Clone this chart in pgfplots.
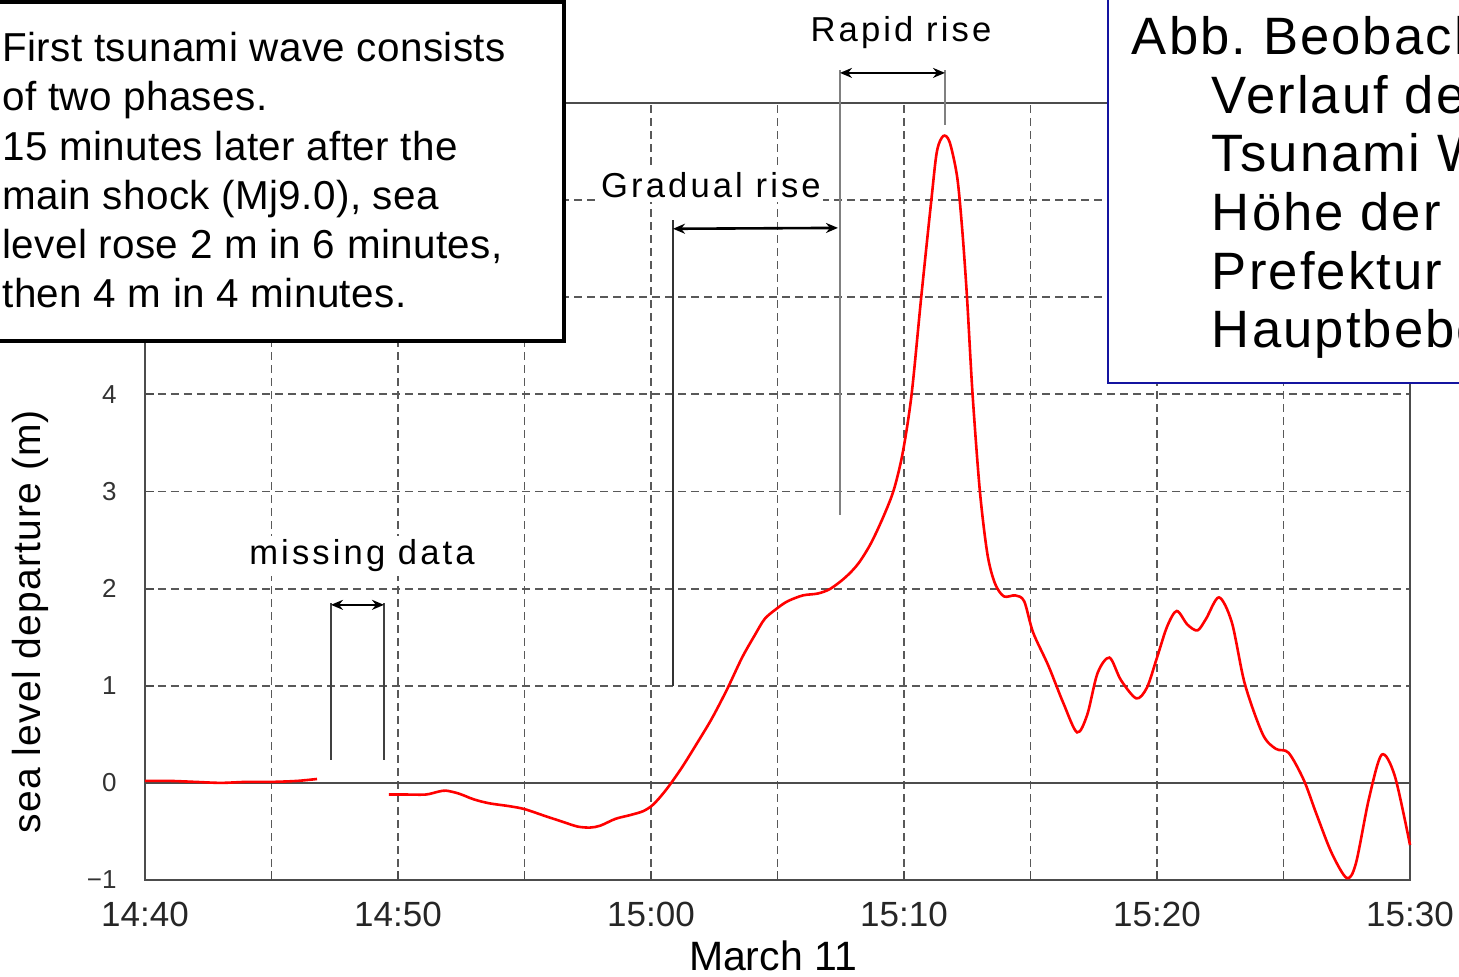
\documentclass[border=0pt]{standalone}
\usepackage{pgfplots}
\pgfplotsset{compat=1.18}
\usepackage{fontspec}
\setmainfont{Liberation Sans}
\newfontfamily\annfont[LetterSpace=9]{Liberation Sans}
\newfontfamily\boxfont[LetterSpace=1]{Liberation Sans}
\newfontfamily\capfont[LetterSpace=4]{Liberation Sans}
\newfontfamily\ylabfont[LetterSpace=3]{Liberation Sans}
\usetikzlibrary{arrows.meta}
\definecolor{boxblue}{RGB}{20,20,160}

\begin{document}
\begin{tikzpicture}
\begin{axis}[
    at={(0,0)}, anchor=south west,
    scale only axis,
    width=632.5pt, height=388.5pt,
    xmin=0, xmax=50, ymin=-1, ymax=7,
    xtick={0,5,...,50},
    xticklabels={14:40,,14:50,,15:00,,15:10,,15:20,,15:30},
    ytick={-1,0,...,7},
    yticklabels={−1,0,1,2,3,4,,,},
    grid=major,
    major grid style={black!65, line width=0.9pt, dash pattern=on 4pt off 2.5pt},
    tick pos=left, tick align=inside,
    major tick length=4.5pt,
    tick style={black!70, line width=0.9pt},
    axis line style={black!70, line width=1pt},
    xticklabel style={font=\fontsize{17.5}{21}\selectfont, text=black!85,
        anchor=base, yshift=-23.5pt},
    yticklabel style={font=\fontsize{13}{15}\selectfont, text=black!80,
        anchor=east, inner sep=0pt, xshift=-14pt},
    xlabel={March 11},
    ylabel={\ylabfont sea level departure (m)},
    xlabel style={font=\fontsize{20.5}{24}\selectfont,
        at={(axis description cs:0.4964,-0.1165)}, anchor=base},
    ylabel style={font=\fontsize{19.5}{24}\selectfont,
        at={(axis description cs:-0.0905,0.3325)}, anchor=center},
    clip=false,
  ]
  % zero line
  \draw[black!70, line width=1pt] (axis cs:0,0) -- (axis cs:50,0);

  % sea level record, before the data gap
  \addplot[red, line width=1.3pt, smooth, tension=0.5] coordinates {
    (0,0.02) (1,0.02) (2,0.01) (3,0.00) (4,0.01) (5,0.01) (6,0.02) (6.8,0.04)
  };
  % sea level record, after the data gap
  \addplot[red, line width=1.3pt, smooth, tension=0.5] coordinates {
    (9.64,-0.12) (10.3,-0.12) (11.1,-0.12) (11.6,-0.09) (11.9,-0.08)
    (12.4,-0.11) (13.0,-0.17) (13.6,-0.21) (14.4,-0.24) (15.0,-0.27)
    (15.8,-0.34) (16.5,-0.40) (17.1,-0.45) (17.6,-0.46) (18.0,-0.44)
    (18.6,-0.37) (19.2,-0.33) (19.7,-0.29) (20.1,-0.22) (20.6,-0.07)
    (21.2,0.15) (21.8,0.40) (22.4,0.66) (23.0,0.96) (23.6,1.29)
    (24.1,1.52) (24.5,1.69) (25.0,1.80) (25.4,1.87) (26.0,1.93)
    (26.6,1.95) (27.1,2.00) (27.7,2.12) (28.2,2.26) (28.7,2.47)
    (29.2,2.75) (29.6,3.02) (29.95,3.40) (30.3,4.00)
    (30.68,5.00) (31.08,6.00) (31.3,6.50) (31.55,6.66) (31.8,6.60)
    (32.1,6.24) (32.3,5.70) (32.49,5.00) (32.71,4.00) (33.0,3.00)
    (33.3,2.35) (33.6,2.05) (33.95,1.92) (34.4,1.93) (34.75,1.87)
    (35.1,1.55) (35.7,1.21) (36.3,0.82) (36.84,0.52) (37.24,0.70)
    (37.65,1.13) (38.12,1.29) (38.57,1.06) (39.18,0.87) (39.6,0.98)
    (40.0,1.29) (40.4,1.61) (40.78,1.77) (41.2,1.63) (41.6,1.57)
    (41.94,1.69) (42.45,1.91) (42.96,1.65) (43.47,1.02) (44.18,0.50)
    (44.7,0.35) (45.2,0.31) (45.8,0.03) (46.3,-0.32) (46.9,-0.72)
    (47.5,-0.98) (47.86,-0.83) (48.37,-0.17) (48.88,0.29) (49.4,0.07)
    (50,-0.64)
  };

  % missing data
  \draw[black!75, line width=0.9pt] (axis cs:7.352,0.237) -- (axis cs:7.352,1.853);
  \draw[black!75, line width=0.9pt] (axis cs:9.447,0.237) -- (axis cs:9.447,1.853);
  \draw[{Stealth[length=6pt,width=5pt]}-{Stealth[length=6pt,width=5pt]}, line width=1.3pt]
    (axis cs:7.352,1.833) -- (axis cs:9.447,1.833);
  \node[anchor=base, fill=white, inner xsep=1pt, inner ysep=2pt,
        font=\annfont\fontsize{17.3}{20}\selectfont] at (axis cs:8.577,2.245) {missing data};

  % gradual rise
  \draw[black!80, line width=0.9pt] (axis cs:20.87,1.0) -- (axis cs:20.87,5.797);
  \draw[{Stealth[length=6pt,width=5pt]}-{Stealth[length=6pt,width=5pt]}, line width=1.3pt]
    (axis cs:20.87,5.705) -- (axis cs:27.39,5.714);
  \node[anchor=base, fill=white, inner xsep=1pt, inner ysep=2pt,
        font=\annfont\fontsize{17.3}{20}\selectfont] at (axis cs:22.37,6.03) {Gradual rise};

  % rapid rise
  \draw[black!50, line width=0.9pt] (axis cs:27.47,2.759) -- (axis cs:27.47,7.341);
  \draw[black!50, line width=0.9pt] (axis cs:31.62,6.775) -- (axis cs:31.62,7.341);
  \draw[{Stealth[length=6pt,width=5pt]}-{Stealth[length=6pt,width=5pt]}, line width=1.3pt]
    (axis cs:27.47,7.31) -- (axis cs:31.62,7.31);
  \node[anchor=base, font=\annfont\fontsize{17.3}{20}\selectfont]
    at (axis cs:29.88,7.63) {Rapid rise};
\end{axis}

% boxes over the top of the plot, in image pixel units
\begin{scope}[x=0.5pt, y=-0.5pt, shift={(-72.5pt,440pt)}]
  \draw[line width=2pt, fill=white] (-20,2) rectangle (564,341);
  \begin{scope}[every node/.style={anchor=base west, inner sep=0pt,
        font=\boxfont\fontsize{20.2}{25}\selectfont}]
    \node at (2,62) {First tsunami wave consists};
    \node at (2,111) {of two phases.};
    \node at (2,161) {15 minutes later after the};
    \node at (2,210) {main shock (Mj9.0), sea};
    \node at (2,259) {level rose 2 m in 6 minutes,};
    \node at (2,308) {then 4 m in 4 minutes.};
  \end{scope}

  \begin{scope}
    \clip (1100,-5) rectangle (1459,400);
    \draw[line width=1pt, draw=boxblue, fill=white] (1108,-20) rectangle (1490,383);
    \begin{scope}[every node/.style={anchor=base west, inner sep=0pt,
          font=\capfont\fontsize{26.3}{29}\selectfont}]
      \node at (1131.5,55) {Abb.\ Beobachteter};
      \node at (1211.5,113.5) {Verlauf der};
      \node at (1211.5,172) {Tsunami Welle,};
      \node at (1211.5,231) {Höhe der Iwate};
      \node at (1211.5,289.5) {Prefektur nach};
      \node at (1211.5,348) {Hauptbeben};
    \end{scope}
  \end{scope}
\end{scope}
\pgfresetboundingbox
\useasboundingbox (-72.5pt,-48.5pt) rectangle (657pt,440pt);
\end{tikzpicture}
\end{document}
